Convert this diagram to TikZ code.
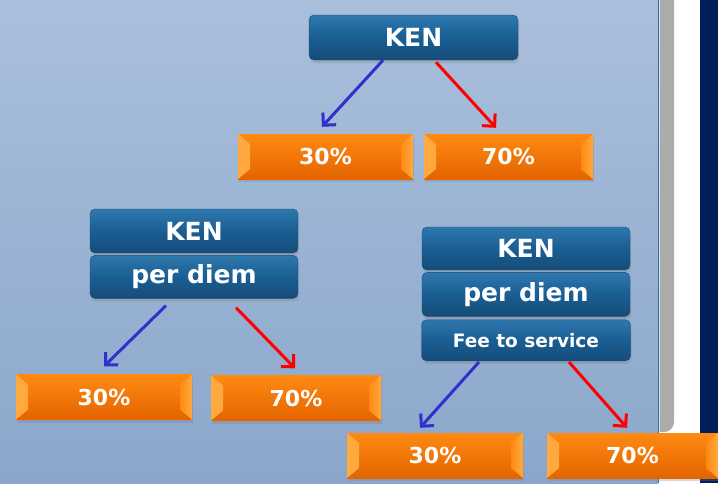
\documentclass[tikz,border=0pt]{standalone}
\usepackage{fontspec}
\setmainfont{DejaVu Sans}
\usetikzlibrary{arrows.meta, positioning, shadows, calc}

\definecolor{bgtop}{HTML}{AABFDC}
\definecolor{bgbottom}{HTML}{8AA7CB}
\definecolor{kentop}{HTML}{2E78AE}
\definecolor{kenmid}{HTML}{1A5E93}
\definecolor{kenbottom}{HTML}{154C78}
\definecolor{kenline}{HTML}{1B4A73}
\definecolor{orgtop}{HTML}{FF8A12}
\definecolor{orgbottom}{HTML}{E46400}
\definecolor{orgedge}{HTML}{FFAA40}
\definecolor{splitblue}{HTML}{2A70A8}
\definecolor{panelgray}{HTML}{ABABAB}
\definecolor{panelnavy}{HTML}{001E5A}
\definecolor{arrblue}{HTML}{3030CC}
\definecolor{arrred}{HTML}{FF0000}

\begin{document}
\begin{tikzpicture}[x=1pt, y=-1pt, node distance=2pt]
    \tikzstyle{kenbox}=[rounded corners=5pt, draw=kenline, thin,
        top color=kentop, bottom color=kenbottom, middle color=kenmid,
        minimum width=\sizeken, minimum height=44pt, inner sep=0pt,
        text=white, font=\fontsize{25}{28}\selectfont\bfseries,
        drop shadow={opacity=0.3, shadow xshift=1pt, shadow yshift=-3pt}]
    \tikzstyle{feebox}=[kenbox, minimum height=41pt,
        font=\fontsize{18.5}{22}\selectfont\bfseries]
    \tikzstyle{sharebox}=[draw=none, top color=orgtop, bottom color=orgbottom,
        minimum height=45pt, inner sep=0pt,
        text=white, font=\fontsize{22}{26}\selectfont\bfseries,
        drop shadow={opacity=0.3, shadow xshift=1pt, shadow yshift=-3pt},
        path picture={
            \shade[left color=orgedge, right color=orgtop] (path picture bounding box.north west)
                -- ([xshift=12pt,yshift=-10pt]path picture bounding box.north west)
                -- ([xshift=12pt,yshift=10pt]path picture bounding box.south west)
                -- (path picture bounding box.south west) -- cycle;
            \shade[left color=orgtop, right color=orgedge] (path picture bounding box.north east)
                -- ([xshift=-12pt,yshift=-10pt]path picture bounding box.north east)
                -- ([xshift=-12pt,yshift=10pt]path picture bounding box.south east)
                -- (path picture bounding box.south east) -- cycle;
        }]
    \tikzstyle{split}=[line width=3pt, -{Straight Barb[length=9pt,width=18pt]}]
    \edef\sizeken{208pt}

    % background and right panel
    \useasboundingbox (0,0) rectangle (718,483);
    \shade[top color=bgtop, bottom color=bgbottom] (0,0) rectangle (658,483);
    \fill[white] (659.5,0) rectangle (700,483);
    \fill[panelgray] (659.5,0) -- (674,0) -- (674,422) arc[start angle=0, end angle=-90, radius=10pt] -- (659.5,432) -- cycle;
    \fill[panelnavy] (700,0) rectangle (718,483);
    \draw[splitblue, line width=1.5pt] (658.5,0) -- (658.5,483);

    % top: KEN alone
    \node[kenbox, minimum width=209pt, minimum height=45pt] at (413.5,37.5) (kenA) {KEN};
    \node[sharebox, minimum width=175pt] at (325.5,156.5) (lowA) {30\%};
    \node[sharebox, minimum width=169pt] at (508.5,156.5) (highA) {70\%};
    \draw[split, arrblue] ($(kenA.south)+(-30.5,0)$) -- ($(lowA.north)+(-3.5,-7)$);
    \draw[split, arrred] ($(kenA.south)+(22.5,2)$) -- ($(highA.north)+(-12.5,-6)$);

    % left: KEN + per diem
    \node[kenbox] at (194,231) (kenB) {KEN};
    \node[kenbox, minimum height=43pt, below=of kenB] (diemB) {per diem};
    \node[sharebox, minimum width=176pt] at (104,397) (lowB) {30\%};
    \node[sharebox, minimum width=170pt] at (296,398) (highB) {70\%};
    \draw[split, arrblue] ($(diemB.south)+(-28,7)$) -- ($(lowB.north)+(0,-8)$);
    \draw[split, arrred] ($(diemB.south)+(42,9)$) -- ($(highB.north)+(-1,-7)$);

    % right: KEN + per diem + fee to service
    \node[kenbox, minimum height=43pt] at (526,248.5) (kenC) {KEN};
    \node[kenbox, below=of kenC] (diemC) {per diem};
    \node[feebox, minimum width=209pt, below=3pt of diemC] (feeC) {Fee to service};
    \node[sharebox, minimum width=176pt] at (435,455.5) (lowC) {30\%};
    \node[sharebox, minimum width=171pt] at (632.5,455.5) (highC) {70\%};
    \draw[split, arrblue] ($(feeC.south)+(-47,1)$) -- ($(lowC.north)+(-15,-5)$);
    \draw[split, arrred] ($(feeC.south)+(43,1)$) -- ($(highC.north)+(-5.5,-5)$);
\end{tikzpicture}
\end{document}
